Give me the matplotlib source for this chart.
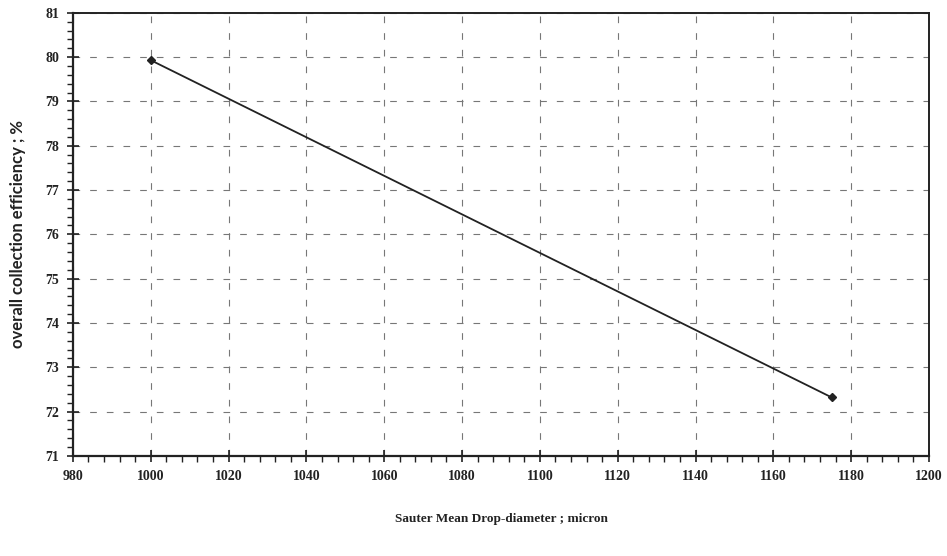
import matplotlib
matplotlib.use("Agg")
import matplotlib.pyplot as plt
from matplotlib.ticker import MultipleLocator

diameter = [1000, 1175]
efficiency = [79.93, 72.32]
x_ticks = [980, 1000, 1020, 1040, 1060, 1080, 1100, 1120, 1140, 1160, 1180, 1200]
y_ticks = [71, 72, 73, 74, 75, 76, 77, 78, 79, 80, 81]

plt.rcParams['font.family'] = ['Liberation Serif', 'DejaVu Serif']
plt.rcParams['font.weight'] = 'bold'

fig = plt.figure(figsize=(9.47, 5.56), dpi=100)
ax = fig.add_axes([0.077, 0.18, 0.904, 0.797])

ax.plot(diameter, efficiency, color='#222222', lw=1.3, marker='D', ms=4.5,
        markerfacecolor='#222222', markeredgecolor='#222222', zorder=3)

ax.set_xlim(980, 1200)
ax.set_ylim(71, 81)
ax.set_xticks(x_ticks)
ax.set_yticks(y_ticks)
ax.xaxis.set_minor_locator(MultipleLocator(4))
ax.yaxis.set_minor_locator(MultipleLocator(0.2))

ax.grid(True, which='major', color='#777777', linestyle=(0, (6, 9)), lw=0.8)
ax.tick_params(axis='both', which='major', direction='inout', length=8, width=1.2,
               labelsize=10, colors='#222222')
ax.tick_params(axis='both', which='minor', direction='out', length=4, width=1.0,
               colors='#222222')
ax.tick_params(axis='x', which='major', pad=6)
ax.tick_params(axis='y', which='major', pad=6)
for lab in ax.get_xticklabels() + ax.get_yticklabels():
    lab.set_fontweight('bold')

for s in ax.spines.values():
    s.set_color('#222222')
ax.spines['left'].set_linewidth(1.6)
ax.spines['bottom'].set_linewidth(1.6)
ax.spines['top'].set_linewidth(1.4)
ax.spines['right'].set_linewidth(1.4)

ax.set_xlabel('Sauter Mean Drop-diameter ; micron', fontsize=9.5, fontweight='bold',
              labelpad=22, color='#222222')
ax.set_ylabel('overall collection efficiency ; %', fontsize=12, fontweight='bold',
              labelpad=14, color='#222222', family=['Lato', 'DejaVu Sans'])

fig.savefig('out.png', dpi=100)
